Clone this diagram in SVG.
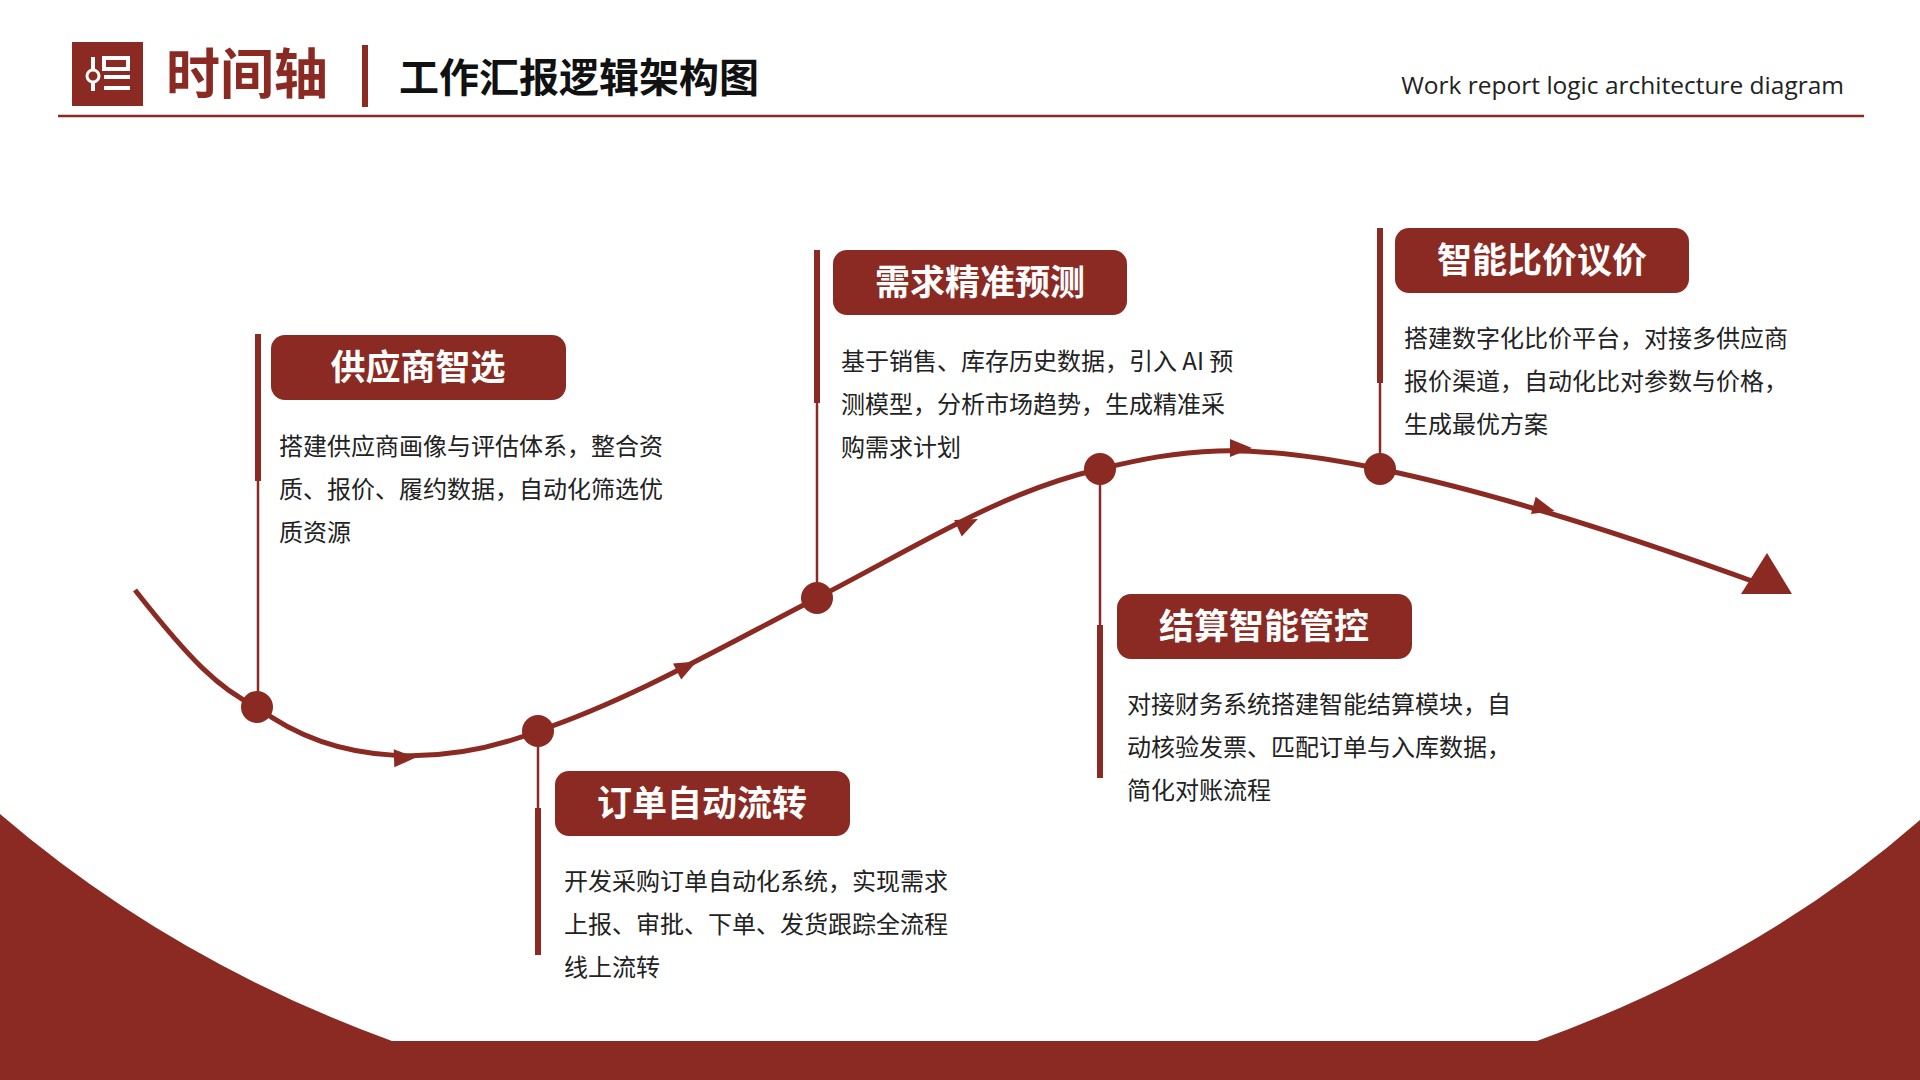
<svg xmlns="http://www.w3.org/2000/svg" width="1920" height="1080" viewBox="0 0 1920 1080">
<defs>
<style>
.red{fill:#8B2A22}
.pill{fill:#8B2A22}
.pt{fill:#fff;font-family:"Noto Sans CJK SC",sans-serif;font-weight:700;font-size:35px;text-anchor:middle}
.d{fill:#222;font-family:"Noto Sans CJK SC",sans-serif;font-size:24px}
.thick{stroke:#8B2A22;stroke-width:6}
.thin{stroke:#8B2A22;stroke-width:2.5}
.arr{fill:#8B2A22}
</style>
</defs>
<rect width="1920" height="1080" fill="#fff"/>
<path class="red" d="M0 814 Q170 960 392 1041 L1537 1041 Q1760 960 1920 820 L1920 1080 L0 1080 Z"/>
<g id="header">
<rect x="72" y="42" width="71" height="64" fill="#8B2A22"/>
<line x1="93" y1="57" x2="93" y2="91" stroke="#fff" stroke-width="4"/>
<circle cx="93" cy="76" r="6" fill="#8B2A22" stroke="#fff" stroke-width="3"/>
<rect x="104" y="58" width="24" height="11" fill="none" stroke="#fff" stroke-width="4"/>
<rect x="104" y="75" width="26" height="4" fill="#fff"/>
<rect x="104" y="86" width="26" height="4" fill="#fff"/>
<text x="166" y="94" fill="#8B2A22" font-family="Noto Sans CJK SC,sans-serif" font-weight="700" font-size="54">时间轴</text>
<rect x="362" y="45" width="6" height="62" fill="#8B2A22"/>
<text x="399" y="92" fill="#111" font-family="Noto Sans CJK SC,sans-serif" font-weight="700" font-size="40">工作汇报逻辑架构图</text>
<text x="1844" y="94" fill="#222" font-family="Open Sans,sans-serif" font-size="24.5" text-anchor="end">Work report logic architecture diagram</text>
<line x1="58" y1="116" x2="1864" y2="116" stroke="#8B2A22" stroke-width="2.5"/>
</g>
<g id="connectors">
<path d="M135 590 C190 660 220 690 257 707 C340 770 450 765 538 731 C630 700 720 648 817 598 C920 545 1000 492 1100 469 C1180 450 1240 440 1380 469 C1500 494 1640 540 1763 585" fill="none" stroke="#8B2A22" stroke-width="5"/>
<polygon class="arr" points="-10,-9 12,0 -10,9" transform="translate(404,758) rotate(-2)"/>
<polygon class="arr" points="-10,-9 12,0 -10,9" transform="translate(686,667) rotate(-27)"/>
<polygon class="arr" points="-10,-9 12,0 -10,9" transform="translate(967,524) rotate(-25)"/>
<polygon class="arr" points="-10,-9 12,0 -10,9" transform="translate(1240,448) rotate(0)"/>
<polygon class="arr" points="-10,-9 12,0 -10,9" transform="translate(1543,508) rotate(15)"/>
<polygon class="arr" points="1741,594 1792,594 1767,553"/>
<line class="thick" x1="258" y1="334" x2="258" y2="481"/><line class="thin" x1="258" y1="481" x2="258" y2="707"/>
<line class="thin" x1="538" y1="731" x2="538" y2="808"/><line class="thick" x1="538" y1="808" x2="538" y2="955"/>
<line class="thick" x1="817" y1="250" x2="817" y2="403"/><line class="thin" x1="817" y1="403" x2="817" y2="598"/>
<line class="thin" x1="1100" y1="469" x2="1100" y2="625"/><line class="thick" x1="1100" y1="625" x2="1100" y2="778"/>
<line class="thick" x1="1380" y1="228" x2="1380" y2="383"/><line class="thin" x1="1380" y1="383" x2="1380" y2="469"/>
</g>
<g id="n1">
<circle cx="257" cy="707" r="16" class="red"/>
<rect x="271" y="335" width="295" height="65" rx="14" class="pill"/>
<text x="418" y="380" class="pt">供应商智选</text>
<text class="d" x="279" y="455">搭建供应商画像与评估体系，整合资</text>
<text class="d" x="279" y="498">质、报价、履约数据，自动化筛选优</text>
<text class="d" x="279" y="541">质资源</text>
</g>
<g id="n2">
<circle cx="538" cy="731" r="16" class="red"/>
<rect x="555" y="771" width="295" height="65" rx="14" class="pill"/>
<text x="702" y="816" class="pt">订单自动流转</text>
<text class="d" x="564" y="890">开发采购订单自动化系统，实现需求</text>
<text class="d" x="564" y="933">上报、审批、下单、发货跟踪全流程</text>
<text class="d" x="564" y="976">线上流转</text>
</g>
<g id="n3">
<circle cx="817" cy="598" r="16" class="red"/>
<rect x="833" y="250" width="294" height="65" rx="14" class="pill"/>
<text x="980" y="295" class="pt">需求精准预测</text>
<text class="d" x="841" y="370">基于销售、库存历史数据，引入 AI 预</text>
<text class="d" x="841" y="413">测模型，分析市场趋势，生成精准采</text>
<text class="d" x="841" y="456">购需求计划</text>
</g>
<g id="n4">
<circle cx="1100" cy="469" r="16" class="red"/>
<rect x="1117" y="594" width="295" height="65" rx="14" class="pill"/>
<text x="1264" y="639" class="pt">结算智能管控</text>
<text class="d" x="1127" y="713">对接财务系统搭建智能结算模块，自</text>
<text class="d" x="1127" y="756">动核验发票、匹配订单与入库数据，</text>
<text class="d" x="1127" y="799">简化对账流程</text>
</g>
<g id="n5">
<circle cx="1380" cy="469" r="16" class="red"/>
<rect x="1395" y="228" width="294" height="65" rx="14" class="pill"/>
<text x="1542" y="273" class="pt">智能比价议价</text>
<text class="d" x="1404" y="347">搭建数字化比价平台，对接多供应商</text>
<text class="d" x="1404" y="390">报价渠道，自动化比对参数与价格，</text>
<text class="d" x="1404" y="433">生成最优方案</text>
</g>
</svg>
